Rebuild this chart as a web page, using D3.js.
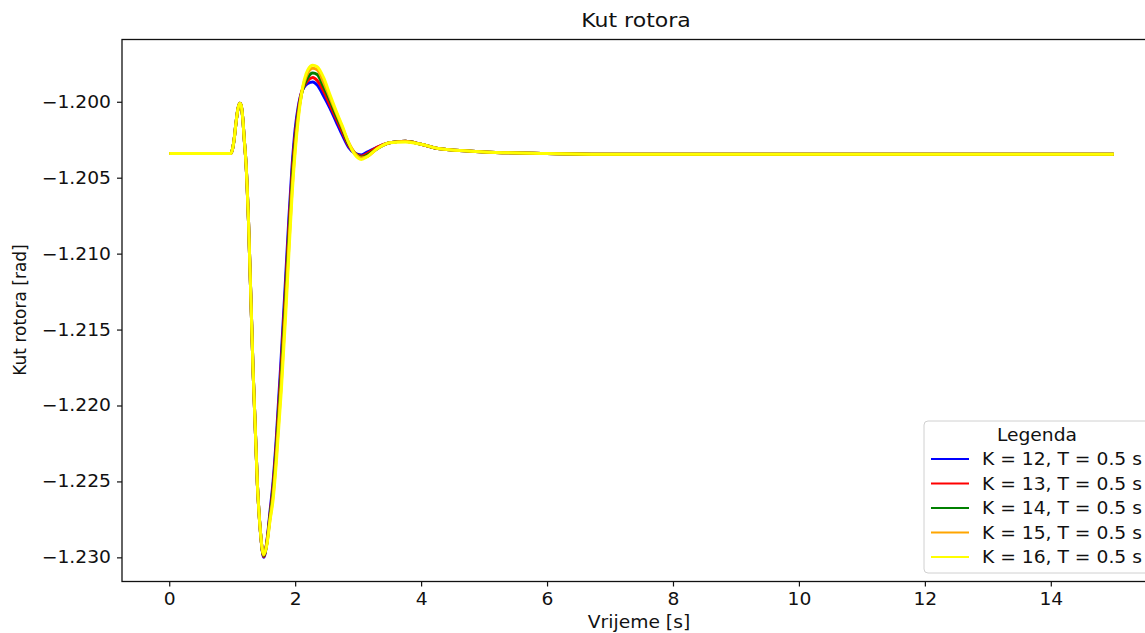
<!DOCTYPE html>
<html>
<head>
<meta charset="utf-8">
<script src="https://d3js.org/d3.v7.min.js"></script>
<style>
body { margin: 0; background: #fff; }
text { font-family: "DejaVu Sans", sans-serif; fill: #111; }
</style>
</head>
<body>
<div id="chart-area"></div>
<script>
// time (s), shared by all five runs
const times = [0, 0.98, 1.0, 1.03, 1.06, 1.09, 1.12, 1.14, 1.17, 1.19, 1.22, 1.26, 1.33, 1.4, 1.45,
  1.5, 1.55, 1.6, 1.65, 1.7, 1.78, 1.85, 1.9, 1.95, 2.0,
  2.05, 2.1, 2.2, 2.28, 2.35, 2.45, 2.55, 2.65, 2.75, 2.85,
  2.95, 3.05, 3.15, 3.3, 3.5, 3.75, 4.0, 4.3, 5.0, 6.0,
  7.0, 15.0]

// rotor angle before the trough is the same for every run
const commonStart = [-1.2034, -1.2034, -1.2032, -1.2025, -1.2014, -1.2005, -1.2001, -1.2002, -1.2012, -1.2024,
  -1.2041, -1.2080, -1.2175, -1.2252, -1.2284]

const k12 = commonStart.concat([-1.2300, -1.2290, -1.2270, -1.2250, -1.2222, -1.2167, -1.2115, -1.2077, -1.2043, -1.2018,
  -1.2003, -1.1994, -1.1988, -1.1987, -1.1989, -1.1996, -1.2004, -1.2013, -1.2022, -1.2030,
  -1.2034, -1.2035, -1.2033, -1.2030, -1.2027, -1.2026, -1.2028, -1.2031, -1.2033, -1.2034,
  -1.20345, -1.20345])
const k13 = commonStart.concat([-1.22995, -1.2290, -1.2272, -1.2253, -1.2226, -1.2173, -1.2121, -1.2083, -1.2048, -1.2022,
  -1.2005, -1.1994, -1.1986, -1.1984, -1.1986, -1.1993, -1.2002, -1.2011, -1.2020, -1.2029,
  -1.2034, -1.20358, -1.2034, -1.2030, -1.2027, -1.2026, -1.2028, -1.2031, -1.2033, -1.2034,
  -1.20345, -1.20345])
const k14 = commonStart.concat([-1.2299, -1.2291, -1.2273, -1.2256, -1.2230, -1.2179, -1.2127, -1.2089, -1.2053, -1.2026,
  -1.2007, -1.1995, -1.1984, -1.1981, -1.1982, -1.1990, -1.1999, -1.2009, -1.2018, -1.2028,
  -1.2034, -1.20365, -1.2035, -1.2031, -1.2027, -1.2026, -1.2028, -1.2031, -1.2033, -1.2034,
  -1.20345, -1.20345])
const k15 = commonStart.concat([-1.22985, -1.2291, -1.2275, -1.2259, -1.2234, -1.2185, -1.2134, -1.2095, -1.2058, -1.2030,
  -1.2009, -1.1995, -1.1981, -1.1978, -1.1979, -1.1987, -1.1997, -1.2007, -1.2017, -1.2027,
  -1.2034, -1.2037, -1.2036, -1.2031, -1.2027, -1.2026, -1.2028, -1.2031, -1.2033, -1.2034,
  -1.20345, -1.20345])
const k16 = commonStart.concat([-1.2298, -1.2292, -1.2276, -1.2262, -1.2238, -1.2190, -1.2140, -1.2100, -1.2062, -1.2033,
  -1.2011, -1.1995, -1.1979, -1.1976, -1.1977, -1.1984, -1.1995, -1.2006, -1.2016, -1.2027,
  -1.2035, -1.2038, -1.2036, -1.2031, -1.2027, -1.20265, -1.2028, -1.2031, -1.2033, -1.2034,
  -1.20345, -1.20345])

const seriesValues = [k12, k13, k14, k15, k16]
const seriesLabels = ["K = 12, T = 0.5 s", "K = 13, T = 0.5 s", "K = 14, T = 0.5 s", "K = 15, T = 0.5 s", "K = 16, T = 0.5 s"]
const seriesColors = ["blue", "red", "green", "orange", "yellow"]

const xTicks = [0, 2, 4, 6, 8, 10, 12, 14]
const yTicks = [-1.230, -1.225, -1.220, -1.215, -1.210, -1.205, -1.200]

const MARGIN = { LEFT: 122, RIGHT: -16, TOP: 39.5, BOTTOM: 51.5 }
const WIDTH = 1145 - MARGIN.LEFT - MARGIN.RIGHT
const HEIGHT = 633 - MARGIN.TOP - MARGIN.BOTTOM
// the reference picture is a bit wider than tall, so horizontal text gets stretched
const STRETCH = 1.1

const svg = d3.select("#chart-area").append("svg")
  .attr("width", 1145)
  .attr("height", 633)

const g = svg.append("g")
  .attr("transform", `translate(${MARGIN.LEFT}, ${MARGIN.TOP})`)

function stretch(sel) {
  sel.each(function() {
    const w = this.getComputedTextLength()
    d3.select(this)
      .attr("textLength", w * STRETCH)
      .attr("lengthAdjust", "spacingAndGlyphs")
  })
}

// scales (matplotlib-style 5% padding)
const x = d3.scaleLinear().domain([-0.75, 15.75]).range([0, WIDTH])
const y = d3.scaleLinear().domain([-1.23159, -1.19590]).range([HEIGHT, 0])

// axes
const xAxisCall = d3.axisBottom(x).tickValues(xTicks).tickSize(5).tickPadding(6).tickFormat(d3.format("d"))
const yAxisCall = d3.axisLeft(y).tickValues(yTicks).tickSize(5).tickPadding(6).tickFormat(d3.format(".3f"))

const xAxis = g.append("g")
  .attr("transform", `translate(0, ${HEIGHT})`)
  .call(xAxisCall)
const yAxis = g.append("g")
  .call(yAxisCall)

g.selectAll(".domain").remove()
g.selectAll(".tick line").attr("stroke", "#111").attr("stroke-width", 1.2)
g.selectAll(".tick text")
  .attr("font-size", "17px")
  .attr("font-family", "DejaVu Sans")
  .attr("fill", "#111")
  .call(stretch)

// lines
const line = d3.line()
  .x((d, i) => x(times[i]))
  .y(d => y(d))
  .curve(d3.curveMonotoneX)

g.selectAll(".run")
  .data(seriesValues)
  .enter().append("path")
  .attr("class", "run")
  .attr("fill", "none")
  .attr("stroke", (d, i) => seriesColors[i])
  .attr("stroke-width", 3)
  .attr("stroke-linejoin", "round")
  .attr("d", d => line(d))

// frame
g.append("rect")
  .attr("width", WIDTH)
  .attr("height", HEIGHT)
  .attr("fill", "none")
  .attr("stroke", "#111")
  .attr("stroke-width", 1.3)

// labels
svg.append("text")
  .attr("x", 636)
  .attr("y", 27)
  .attr("text-anchor", "middle")
  .attr("font-size", "20px")
  .text("Kut rotora")
  .call(stretch)

svg.append("text")
  .attr("x", 639)
  .attr("y", 628)
  .attr("text-anchor", "middle")
  .attr("font-size", "17px")
  .text("Vrijeme [s]")
  .call(stretch)

svg.append("text")
  .attr("transform", "rotate(-90)")
  .attr("x", -310)
  .attr("y", 26)
  .attr("text-anchor", "middle")
  .attr("font-size", "17px")
  .text("Kut rotora [rad]")

// legend
const legend = svg.append("g")
  .attr("transform", "translate(924, 421)")

legend.append("rect")
  .attr("width", 229)
  .attr("height", 152)
  .attr("rx", 4)
  .attr("fill", "#fff")
  .attr("fill-opacity", 0.8)
  .attr("stroke", "#d0d0d0")

legend.append("text")
  .attr("x", 113)
  .attr("y", 20)
  .attr("text-anchor", "middle")
  .attr("font-size", "17px")
  .text("Legenda")
  .call(stretch)

const entries = legend.selectAll(".entry")
  .data(seriesLabels)
  .enter().append("g")
  .attr("class", "entry")
  .attr("transform", (d, i) => `translate(0, ${38 + i * 24.5})`)

entries.append("line")
  .attr("x1", 7)
  .attr("x2", 45)
  .attr("stroke", (d, i) => seriesColors[i])
  .attr("stroke-width", 2.2)

entries.append("text")
  .attr("x", 58)
  .attr("y", 6)
  .attr("font-size", "17px")
  .text(d => d)
  .call(stretch)
</script>
</body>
</html>
